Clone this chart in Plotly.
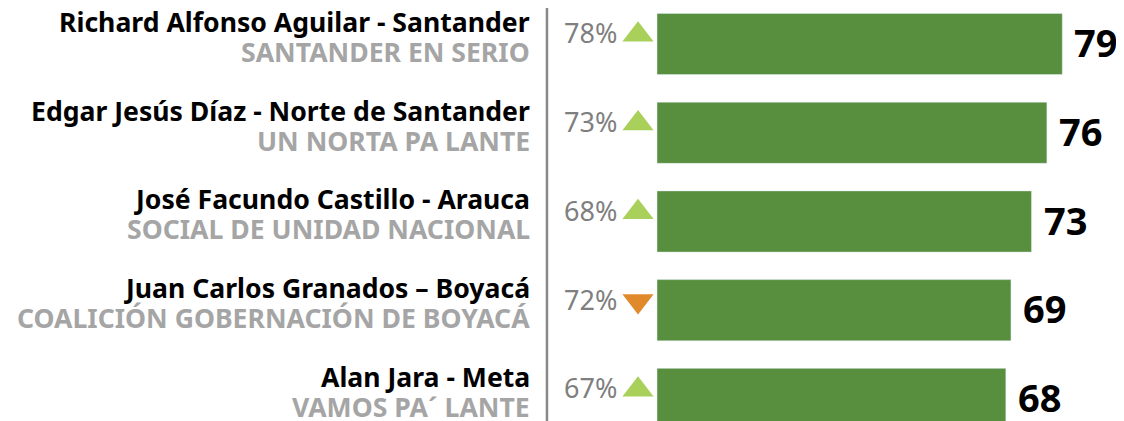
import plotly.graph_objects as go

names = ["Richard Alfonso Aguilar - Santander", "Edgar Jesús Díaz - Norte de Santander",
         "José Facundo Castillo - Arauca", "Juan Carlos Granados – Boyacá", "Alan Jara - Meta"]
parties = ["SANTANDER EN SERIO", "UN NORTA PA LANTE", "SOCIAL DE UNIDAD NACIONAL",
           "COALICIÓN GOBERNACIÓN DE BOYACÁ", "VAMOS PA´ LANTE"]
values = [79, 76, 73, 69, 68]
previous = [78, 73, 68, 72, 67]

rows = list(range(len(names)))
BAR = "#588f3f"
UP = "#a9d05a"
DOWN = "#e08a2c"
FONT = "Noto Sans"

fig = go.Figure()
fig.add_trace(go.Bar(y=rows, x=values, orientation="h", marker_color=BAR,
                     width=0.69, hoverinfo="skip"))

mk_sym = ["triangle-up" if v >= p else "triangle-down" for v, p in zip(values, previous)]
mk_col = [UP if v >= p else DOWN for v, p in zip(values, previous)]
fig.add_trace(go.Scatter(x=[-3.7] * len(rows), y=[r - 0.105 for r in rows], mode="markers",
                         marker=dict(symbol=mk_sym, color=mk_col, size=27, line_width=0),
                         hoverinfo="skip"))

ann = []
for r, n, p, v, pv in zip(rows, names, parties, values, previous):
    ann.append(dict(x=-24.3, y=r - 0.25, text=f"<b>{n}</b>", showarrow=False, xanchor="right",
                    yanchor="middle", font=dict(family=FONT, size=26.6, color="#000000")))
    ann.append(dict(x=-24.3, y=r + 0.09, text=f"<b>{p}</b>", showarrow=False, xanchor="right",
                    yanchor="middle", font=dict(family=FONT, size=26.6, color="#a5a5a5")))
    ann.append(dict(x=-7.4, y=r - 0.125, text=f"{pv}%", showarrow=False, xanchor="right",
                    yanchor="middle", font=dict(family=FONT, size=27, color="#7f7f7f")))
    ann.append(dict(x=v, y=r - 0.02, text=f"<b>{v}</b>", showarrow=False, xanchor="left",
                    xshift=10, yanchor="middle", font=dict(family=FONT, size=38, color="#000000")))

fig.add_shape(type="line", xref="x", yref="paper", x0=-21.45, x1=-21.45, y0=0, y1=1,
              line=dict(color="#888888", width=2.5))

fig.update_layout(
    width=1116, height=413, margin=dict(l=0, r=0, t=0, b=0),
    paper_bgcolor="white", plot_bgcolor="white", showlegend=False,
    annotations=ann,
    xaxis=dict(range=[-126.51, 91.03], visible=False, fixedrange=True),
    yaxis=dict(range=[4.248, -0.4056], visible=False, fixedrange=True),
)
fig.write_html("out.html")
